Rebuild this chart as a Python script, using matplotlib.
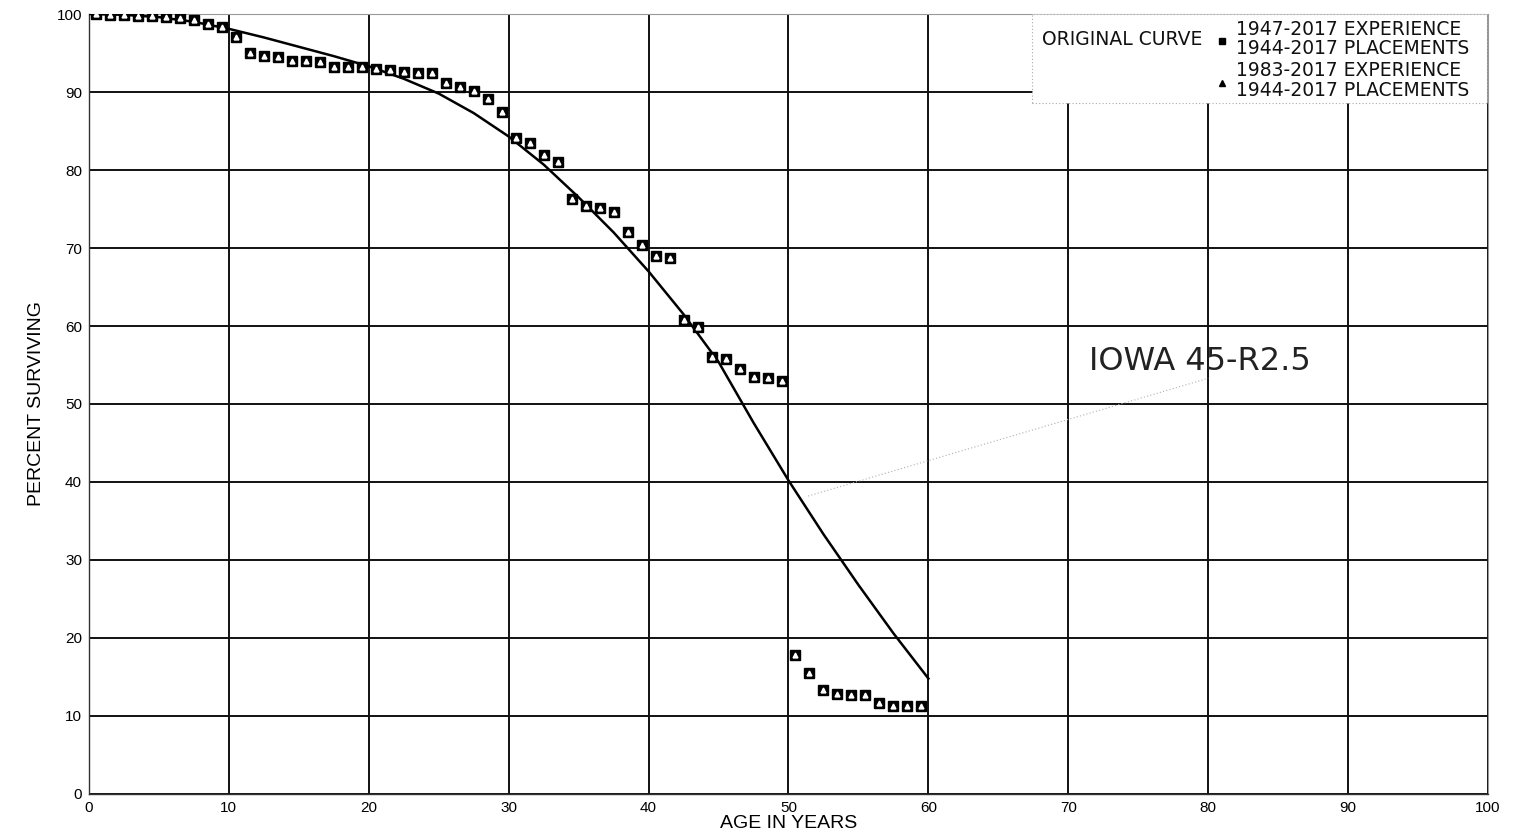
import matplotlib.pyplot as plt
from matplotlib.patches import Rectangle

# observed survivor percentages, plotted at mid-year ages
ages = [0.5, 1.5, 2.5, 3.5, 4.5, 5.5, 6.5, 7.5, 8.5, 9.5,
        10.5, 11.5, 12.5, 13.5, 14.5, 15.5, 16.5, 17.5, 18.5, 19.5,
        20.5, 21.5, 22.5, 23.5, 24.5, 25.5, 26.5, 27.5, 28.5, 29.5,
        30.5, 31.5, 32.5, 33.5, 34.5, 35.5, 36.5, 37.5, 38.5, 39.5,
        40.5, 41.5, 42.5, 43.5, 44.5, 45.5, 46.5, 47.5, 48.5, 49.5,
        50.5, 51.5, 52.5, 53.5, 54.5, 55.5, 56.5, 57.5, 58.5, 59.5]
exp_1947 = [100.0, 99.9, 99.9, 99.8, 99.7, 99.6, 99.5, 99.2, 98.7, 98.3,
             97.1, 95.0, 94.6, 94.5, 94.0, 94.0, 93.8, 93.2, 93.2, 93.2,
             92.9, 92.8, 92.6, 92.4, 92.4, 91.2, 90.6, 90.1, 89.1, 87.4,
             84.1, 83.5, 81.9, 81.0, 76.3, 75.4, 75.1, 74.6, 72.1, 70.4,
             69.0, 68.7, 60.8, 59.9, 56.0, 55.8, 54.5, 53.5, 53.3, 52.9,
             17.8, 15.5, 13.3, 12.8, 12.7, 12.7, 11.7, 11.3, 11.3, 11.3]
# 1983-2017 band lands on the same points
exp_1983 = list(exp_1947)

# Iowa 45-R2.5 survivor curve
curve_age = [0, 2.5, 5, 7.5, 10, 12.5, 15, 17.5, 20, 22.5, 25, 27.5, 30,
             32.5, 35, 37.5, 40, 42.5, 45, 47.5, 50, 52.5, 55, 57.5, 60]
curve_pct = [100.0, 99.9, 99.6, 99.0, 98.1, 97.0, 95.8, 94.6, 93.3, 91.7,
             89.8, 87.3, 84.3, 80.7, 76.5, 72.0, 67.0, 61.5, 55.4, 47.6,
             40.2, 33.3, 26.8, 20.6, 14.8]

curve_name = "IOWA 45-R2.5"
label_at = (71.5, 55.5)
leader = ([51.4, 80.0], [38.2, 53.3])

fig = plt.figure(figsize=(15.13, 8.4), dpi=100)
ax = fig.add_axes([0.0588, 0.0548, 0.9247, 0.9285])

ax.set_xlim(0, 100)
ax.set_ylim(0, 100)
ax.set_xticks(range(0, 101, 10))
ax.set_yticks(range(0, 101, 10))
ax.tick_params(length=0, labelsize=11, pad=5)
for lab in ax.get_xticklabels() + ax.get_yticklabels():
    lab.set_family("Liberation Sans")
ax.grid(True, color="#111111", linewidth=1.4)
ax.set_axisbelow(True)
for side in ["top", "right"]:
    ax.spines[side].set_color("#999999")
    ax.spines[side].set_linewidth(0.8)
for side in ["left", "bottom"]:
    ax.spines[side].set_color("#333333")
    ax.spines[side].set_linewidth(1.0)

ax.plot(curve_age, curve_pct, color="black", linewidth=1.8, zorder=3)
ax.plot(ages, exp_1947, linestyle="none", marker="s", markersize=7.5,
        markerfacecolor="black", markeredgecolor="black", zorder=4)
ax.plot(ages, exp_1983, linestyle="none", marker="^", markersize=3.5,
        markerfacecolor="white", markeredgecolor="white", zorder=5)

# curve name with a faint leader line
ax.plot(leader[0], leader[1], color="#b0b0b0", linewidth=0.8,
        linestyle=(0, (1, 2)), zorder=2)
ax.text(label_at[0], label_at[1], curve_name, fontsize=23,
        family="DejaVu Sans", va="center", ha="left", color="#222222",
        zorder=6)

ax.set_xlabel("AGE IN YEARS", family="Liberation Sans", fontsize=14,
              labelpad=0)
ax.set_ylabel("PERCENT SURVIVING", family="Liberation Sans", fontsize=14,
              labelpad=8)

# hand-built legend box in the upper right
tr = ax.transAxes
ax.add_patch(Rectangle((0.674, 0.886), 0.325, 0.114, transform=tr,
                       facecolor="white", edgecolor="#aaaaaa",
                       linewidth=0.8, linestyle=(0, (1, 2)), zorder=7))
leg_font = dict(family="DejaVu Sans", fontsize=13.5, color="#111111",
                transform=tr, zorder=8, va="center")
ax.text(0.681, 0.967, "ORIGINAL CURVE", ha="left", **leg_font)
ax.plot([0.810], [0.965], marker="s", markersize=5, color="black",
        transform=tr, zorder=8, clip_on=False)
ax.text(0.820, 0.980, "1947-2017 EXPERIENCE", ha="left", **leg_font)
ax.text(0.820, 0.956, "1944-2017 PLACEMENTS", ha="left", **leg_font)
ax.plot([0.810], [0.911], marker="^", markersize=5, color="black",
        transform=tr, zorder=8, clip_on=False)
ax.text(0.820, 0.927, "1983-2017 EXPERIENCE", ha="left", **leg_font)
ax.text(0.820, 0.902, "1944-2017 PLACEMENTS", ha="left", **leg_font)

fig.savefig("out.png", dpi=100)
